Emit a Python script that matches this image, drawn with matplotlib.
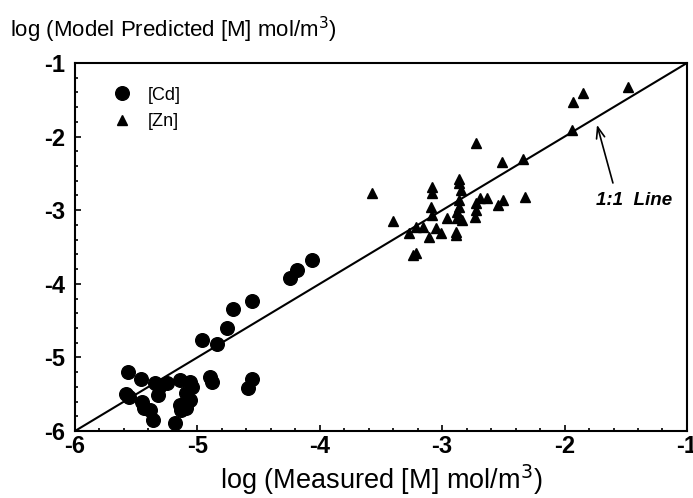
import matplotlib
matplotlib.use("Agg")
import matplotlib.pyplot as plt
from matplotlib.ticker import MultipleLocator

plt.rcParams['font.family'] = ['Liberation Sans', 'DejaVu Sans']
plt.rcParams['axes.unicode_minus'] = False

# [Cd] measured vs model predicted (log mol/m3)
cd_x = [-4.06, -4.19, -4.24, -4.55, -4.71, -4.76, -4.96, -4.84, -5.57, -5.46,
        -4.90, -4.88, -4.55, -4.59, -5.58, -5.56, -5.35, -5.31, -5.25, -5.14,
        -5.06, -5.04, -5.32, -5.45, -5.44, -5.39, -5.14, -5.09, -5.13, -5.36,
        -5.18, -5.06, -5.09]
cd_y = [-3.68, -3.81, -3.92, -4.23, -4.34, -4.60, -4.76, -4.82, -5.20, -5.29,
        -5.27, -5.33, -5.29, -5.42, -5.50, -5.54, -5.35, -5.40, -5.35, -5.31,
        -5.33, -5.40, -5.51, -5.61, -5.69, -5.72, -5.65, -5.69, -5.72, -5.85,
        -5.89, -5.58, -5.48]

# [Zn]
zn_x = [-1.48, -1.85, -1.93, -1.94, -2.72, -2.51, -2.34, -2.32, -3.57, -2.86,
        -2.86, -2.85, -3.08, -3.08, -2.69, -2.63, -2.50, -2.54, -3.09, -3.08,
        -2.86, -2.86, -2.88, -2.88, -2.84, -2.96, -2.72, -2.72, -2.73, -3.40,
        -3.21, -3.16, -3.27, -3.05, -3.01, -3.11, -2.89, -2.89, -3.24, -3.21]
zn_y = [-1.33, -1.41, -1.53, -1.91, -2.09, -2.35, -2.30, -2.82, -2.77, -2.58,
        -2.63, -2.73, -2.69, -2.77, -2.83, -2.83, -2.86, -2.93, -2.96, -3.07,
        -2.86, -2.96, -3.02, -3.11, -3.13, -3.11, -2.90, -3.00, -3.09, -3.15,
        -3.23, -3.23, -3.31, -3.24, -3.31, -3.36, -3.30, -3.34, -3.61, -3.58]

lims = [-6, -1]

fig = plt.figure(figsize=(6.93, 4.98), dpi=100)
ax = fig.add_axes([0.1082, 0.1345, 0.8831, 0.739])

ax.plot(lims, lims, color='black', lw=1.5, zorder=1)
ax.plot(cd_x, cd_y, 'o', color='black', ms=9.8, ls='none', label='[Cd]')
ax.plot(zn_x, zn_y, '^', color='black', ms=7, ls='none', label='[Zn]')

ax.set_xlim(lims)
ax.set_ylim(lims)
ax.xaxis.set_major_locator(MultipleLocator(1))
ax.yaxis.set_major_locator(MultipleLocator(1))
ax.xaxis.set_minor_locator(MultipleLocator(0.2))
ax.yaxis.set_minor_locator(MultipleLocator(0.2))
ax.tick_params(which='both', direction='in', top=False, right=False, width=1.2)
ax.tick_params(which='major', length=4, labelsize=17)
ax.tick_params(axis='x', which='major', pad=3)
ax.tick_params(axis='y', which='major', pad=7)
ax.tick_params(which='minor', length=2.5)
for lab in ax.get_xticklabels() + ax.get_yticklabels():
    lab.set_fontweight('bold')
for s in ax.spines.values():
    s.set_linewidth(1.5)

ax.set_xlabel('log (Measured [M] mol/m$^3$)', fontsize=19.5, labelpad=3)
fig.text(0.014, 0.94, 'log (Model Predicted [M] mol/m$^3$)', fontsize=16,
         ha='left', va='center')

ax.legend(loc='upper left', bbox_to_anchor=(0.047, 0.936), frameon=False,
          fontsize=13, handletextpad=0.45, borderaxespad=0, borderpad=0,
          labelspacing=0.55)

ax.text(-1.74, -2.87, '1:1  Line', fontsize=13.5, fontweight='bold',
        style='italic', ha='left', va='center')
ax.annotate('', xy=(-1.735, -1.84), xytext=(-1.605, -2.63),
            arrowprops=dict(arrowstyle='->,head_length=0.8,head_width=0.3',
                            color='black', lw=1.2, shrinkA=0, shrinkB=0))

fig.savefig('out.png', dpi=100)
